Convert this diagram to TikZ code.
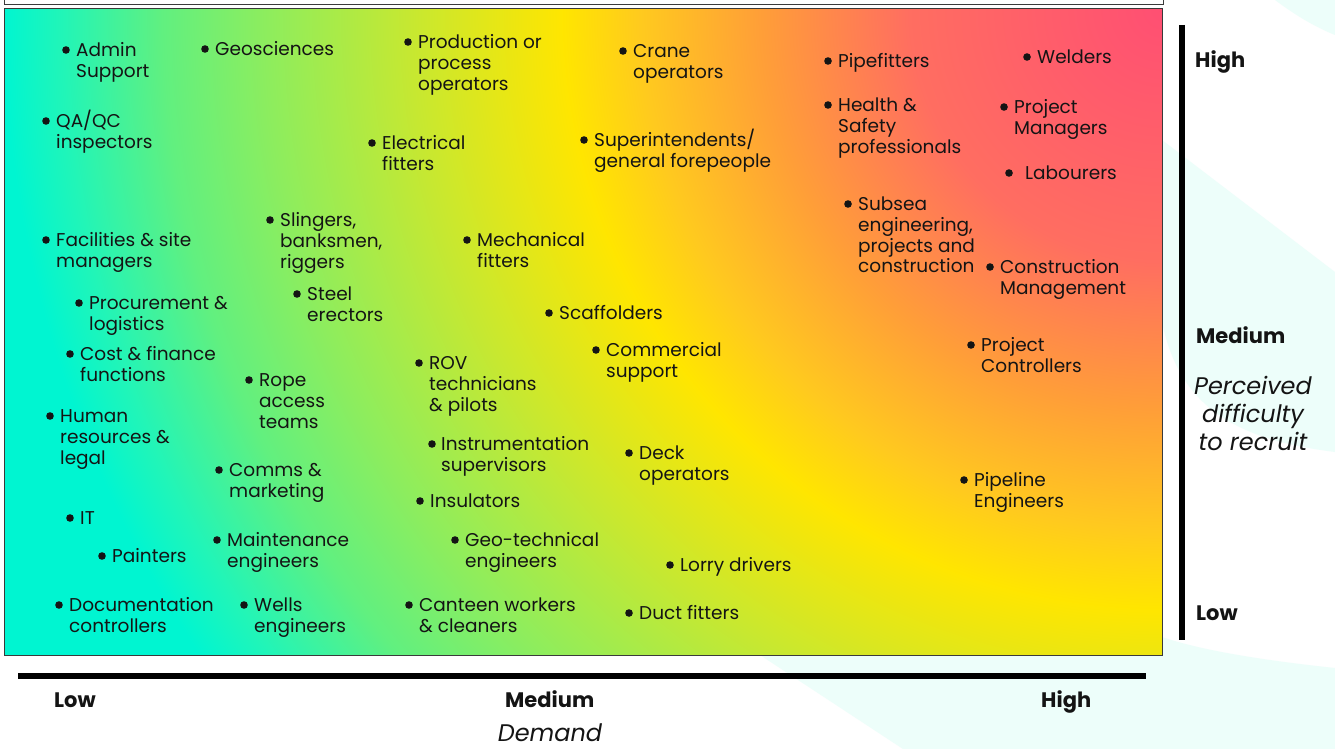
\documentclass[tikz,border=0pt]{standalone}
\usepackage{fontspec}
\setmainfont{Poppins}
\usetikzlibrary{calc}
\definecolor{txt}{HTML}{141414}
\definecolor{bgc}{HTML}{EDFEFA}
\definecolor{framec}{HTML}{3A3A3A}
\pgfdeclareradialshading{heat}{\pgfpoint{0bp}{0bp}}{%
rgb(0bp)=(1,0.31,0.45);
rgb(4.5bp)=(1,0.43,0.38);
rgb(7.15bp)=(1,0.62,0.22);
rgb(9.3bp)=(1,0.79,0.12);
rgb(10.7bp)=(1,0.9,0);
rgb(13.4bp)=(0.78,0.91,0.19);
rgb(16.05bp)=(0.55,0.93,0.37);
rgb(17.85bp)=(0.38,0.94,0.5);
rgb(19.65bp)=(0.13,0.96,0.72);
rgb(20.7bp)=(0,0.96,0.82);
rgb(50bp)=(0,0.96,0.82)}
\tikzset{
  job/.style={anchor=base west, inner sep=0pt, text=txt, font=\fontsize{18.5}{20.7}\selectfont},
  axlbl/.style={anchor=base west, inner sep=0pt, text=txt, font=\fontsize{21}{24}\selectfont\bfseries},
  axtitle/.style={anchor=base, inner sep=0pt, text=txt, font=\fontsize{24}{28}\selectfont\itshape},
  axbar/.style={line width=6pt, black},
}
\newcommand\leftlines[1]{\vtop{\baselineskip=20.7pt\halign{##\hfil\cr #1\crcr}}}
\newcommand\centerlines[1]{\vtop{\baselineskip=28pt\halign{\hfil##\hfil\cr #1\crcr}}}
\newcommand\job[5]{%
  \node[job] (#1) at (#3,#4+7.7) {\leftlines{#5}};
  \fill[txt] (#2,#4+1) circle (3.8);
}
\begin{document}
\begin{tikzpicture}[x=1pt,y=-1pt]
\useasboundingbox (0,0) rectangle (1335,749);
\fill[white] (0,0) rectangle (1335,749);
% decorative background shapes
\fill[bgc] (1275,0) .. controls (1295,15) and (1315,27) .. (1335,35) -- (1335,0) -- cycle;
\fill[bgc] (1162,140) -- (1335,272) -- (1335,452) .. controls (1240,440) and (1180,410) .. (1162,322) -- cycle;
\fill[bgc] (760,655) -- (903,749) -- (1335,749) -- (1335,668) .. controls (1260,660) and (1200,650) .. (1162,637) -- (1000,600) -- cycle;
% top frame
\draw[framec, line width=1pt] (4,-6) rectangle (1163,5);
% chart
\begin{scope}
\clip (4,9) rectangle (1162,655);
\shade[shading=heat] (1162,9) circle (1400);
\end{scope}
\draw[framec, line width=1pt] (4,9) rectangle (1162,655);
% axes
\coordinate (vt) at (1182,25);
\coordinate (vb) at (1182,640);
\coordinate (hl) at (18,676);
\coordinate (hr) at (1146,676);
\draw[axbar] (vt) -- (vb);
\draw[axbar] (hl) -- (hr);
\node[axlbl] (yhigh) at (1195,67.5) {High};
\node[axlbl] (ymed) at (1196,343) {Medium};
\node[axlbl] (ylow) at (1196,620) {Low};
\node[axtitle] (ytitle) at (1253,394) {\centerlines{Perceived\cr difficulty\cr to recruit}};
\node[axlbl] (xlow) at (54,707) {Low};
\node[axlbl] (xmed) at (505,707) {Medium};
\node[axlbl] (xhigh) at (1041,707) {High};
\node[axtitle, text depth=0pt] (xtitle) at (550,741) {Demand};
% jobs
\job{j1}{66}{76}{49}{Admin\cr Support}
\job{j2}{205}{215}{48}{Geosciences}
\job{j3}{408}{418}{41}{Production or\cr process\cr operators}
\job{j4}{623}{633}{50}{Crane\cr operators}
\job{j5}{828}{838}{60}{Pipefitters}
\job{j6}{1027}{1037}{56}{Welders}
\job{j7}{46}{56}{120}{QA/QC\cr inspectors}
\job{j8}{372}{382}{142}{Electrical\cr fitters}
\job{j9}{584}{594}{139}{Superintendents/\cr general forepeople}
\job{j10}{828}{838}{104}{Health \&\cr Safety\cr professionals}
\job{j11}{1004}{1014}{106}{Project\cr Managers}
\job{j12}{1009}{1025}{172}{Labourers}
\job{j13}{46}{56}{239}{Facilities \& site\cr managers}
\job{j14}{270}{280}{219}{Slingers,\cr banksmen,\cr riggers}
\job{j15}{467}{477}{239}{Mechanical\cr fitters}
\job{j16}{848}{858}{203}{Subsea\cr engineering,\cr projects and\cr construction}
\job{j17}{990}{1000}{266}{Construction\cr Management}
\job{j18}{79}{89}{302}{Procurement \&\cr logistics}
\job{j19}{297}{307}{293}{Steel\cr erectors}
\job{j20}{549}{559}{312}{Scaffolders}
\job{j21}{70}{80}{353}{Cost \& finance\cr functions}
\job{j22}{596}{606}{349}{Commercial\cr support}
\job{j23}{971}{981}{344}{Project\cr Controllers}
\job{j24}{419}{429}{362}{ROV\cr technicians\cr \& pilots}
\job{j25}{249}{259}{379}{Rope\cr access\cr teams}
\job{j26}{50}{60}{415}{Human\cr resources \&\cr legal}
\job{j27}{432}{441}{443}{Instrumentation\cr supervisors}
\job{j28}{629}{639}{452}{Deck\cr operators}
\job{j29}{219}{229}{469}{Comms \&\cr marketing}
\job{j30}{964}{974}{479}{Pipeline\cr Engineers}
\job{j31}{420}{430}{500}{Insulators}
\job{j32}{70}{80}{517}{IT}
\job{j33}{217}{227}{539}{Maintenance\cr engineers}
\job{j34}{455}{465}{539}{Geo-technical\cr engineers}
\job{j35}{102}{112}{555}{Painters}
\job{j36}{670}{680}{564}{Lorry drivers}
\job{j37}{59}{69}{604}{Documentation\cr controllers}
\job{j38}{244}{254}{604}{Wells\cr engineers}
\job{j39}{409}{419}{604}{Canteen workers\cr \& cleaners}
\job{j40}{629}{639}{612}{Duct fitters}
\end{tikzpicture}
\end{document}
